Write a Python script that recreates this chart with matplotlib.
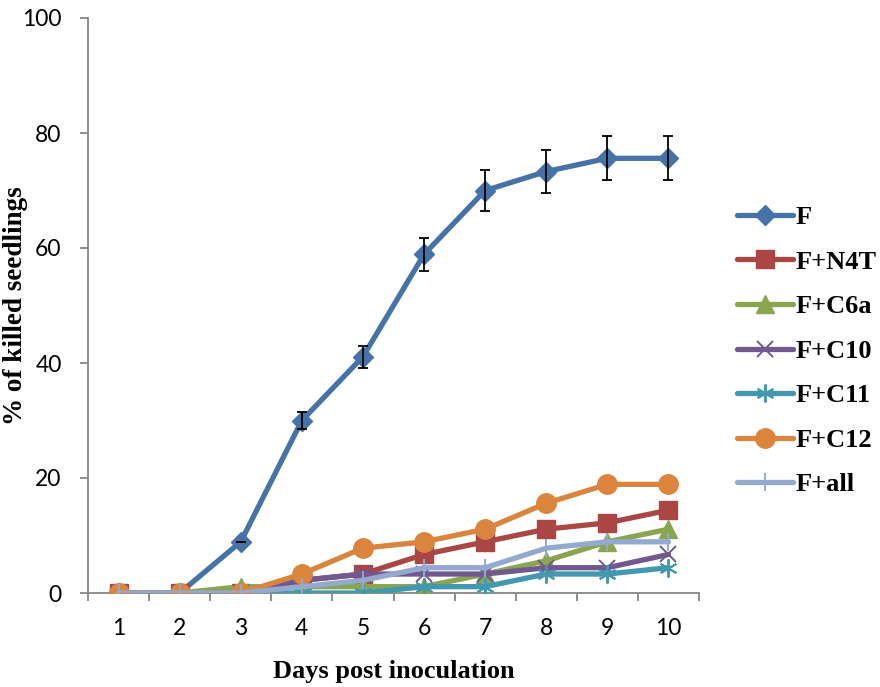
import matplotlib
matplotlib.use("Agg")
import matplotlib.pyplot as plt

#----- Data -----
days = [ 1, 2, 3, 4, 5, 6, 7, 8, 9, 10 ]

series_names = [ "F", "F+N4T", "F+C6a", "F+C10", "F+C11", "F+C12", "F+all" ]
f_vals    = [ 0, 0, 8.9, 30.0, 41.1, 58.9, 70.0, 73.3, 75.6, 75.6 ]
f_err     = [ 0, 0, 0, 1.5, 1.9, 2.9, 3.5, 3.7, 3.8, 3.8 ]
n4t_vals  = [ 0, 0, 0, 2.2, 3.3, 6.7, 8.9, 11.1, 12.2, 14.4 ]
c6a_vals  = [ 0, 0, 1.1, 1.1, 1.1, 1.1, 3.3, 5.6, 8.9, 11.1 ]
c10_vals  = [ 0, 0, 0, 2.2, 3.3, 3.3, 3.3, 4.4, 4.4, 6.7 ]
c11_vals  = [ 0, 0, 0, 0, 0, 1.1, 1.1, 3.3, 3.3, 4.4 ]
c12_vals  = [ 0, 0, 0, 3.3, 7.8, 8.9, 11.1, 15.6, 18.9, 18.9 ]
all_vals  = [ 0, 0, 0, 1.1, 2.2, 4.4, 4.4, 7.8, 8.9, 8.9 ]

#----- Styles -----
line_colours = [ "#4572A7", "#AA4643", "#89A54E", "#71588F", "#4198AF", "#DB843D", "#93A9CF" ]
markers = [ "D", "s", "^", "x", (6, 2, 0), "o", "|" ]
marker_sizes = [ 10.5, 13, 13, 12, 13, 14, 13 ]
axis_grey = "#868686"
lw = 3.8

#----- Plot -----
fig = plt.figure( figsize=(8.8, 6.87), dpi=100 )
ax = fig.add_axes( [ 88/880, 94/687, 611/880, 575/687 ] )

all_series = [ f_vals, n4t_vals, c6a_vals, c10_vals, c11_vals, c12_vals, all_vals ]
for i in range(len( all_series )):
	m = markers[i]
	thin = m in ( "x", (6, 2, 0), "|" )
	ax.plot( days, all_series[i], color=line_colours[i], lw=lw, marker=m,
		ms=marker_sizes[i], mec=line_colours[i], mfc=line_colours[i],
		mew=(1.4 if thin else 1.0), label=series_names[i], zorder=2+i,
		solid_capstyle="round" )
	if i == 0:
		ax.errorbar( days, f_vals, yerr=f_err, fmt="none", ecolor="black",
			elinewidth=1.3, capsize=3.8, capthick=1.3, zorder=2.5 )

ax.set_xlim( 0.5, 10.5 )
ax.set_ylim( 0, 100 )
ax.set_yticks( [ 0, 20, 40, 60, 80, 100 ] )
ax.set_xticks( days )
ax.set_xticks( [ d + 0.5 for d in range(0, 11) ], minor=True )
ax.tick_params( axis="x", which="major", length=0, pad=18 )
ax.tick_params( axis="x", which="minor", length=6, width=1.3, color=axis_grey, direction="out" )
ax.tick_params( axis="y", length=6, width=1.3, color=axis_grey, direction="out", pad=13 )

for lbl in ax.get_xticklabels() + ax.get_yticklabels():
	lbl.set_fontfamily( "Lato" )
	lbl.set_fontsize( 16.5 )

for s in [ "top", "right" ]:
	ax.spines[s].set_visible( False )
for s in [ "left", "bottom" ]:
	ax.spines[s].set_color( axis_grey )
	ax.spines[s].set_linewidth( 1.3 )

ax.set_xlabel( "Days post inoculation", fontfamily="Liberation Serif", fontweight="bold", fontsize=19 )
ax.set_ylabel( "% of killed seedlings", fontfamily="Liberation Serif", fontweight="bold", fontsize=19.5 )
ax.xaxis.set_label_coords( 0.5, -67/575 )
ax.yaxis.set_label_coords( -60/611, 0.5 )

#--- Legend to the right of the plot ---
leg = fig.legend( loc="center left", bbox_to_anchor=( 724/880, 1 - 351/687 ), frameon=False,
	prop={ "family": "Liberation Serif", "weight": "bold", "size": 19 },
	handlelength=2.1, handletextpad=0.1, labelspacing=0.8, borderpad=0 )

plt.savefig( "out.png", dpi=100 )
plt.close()
